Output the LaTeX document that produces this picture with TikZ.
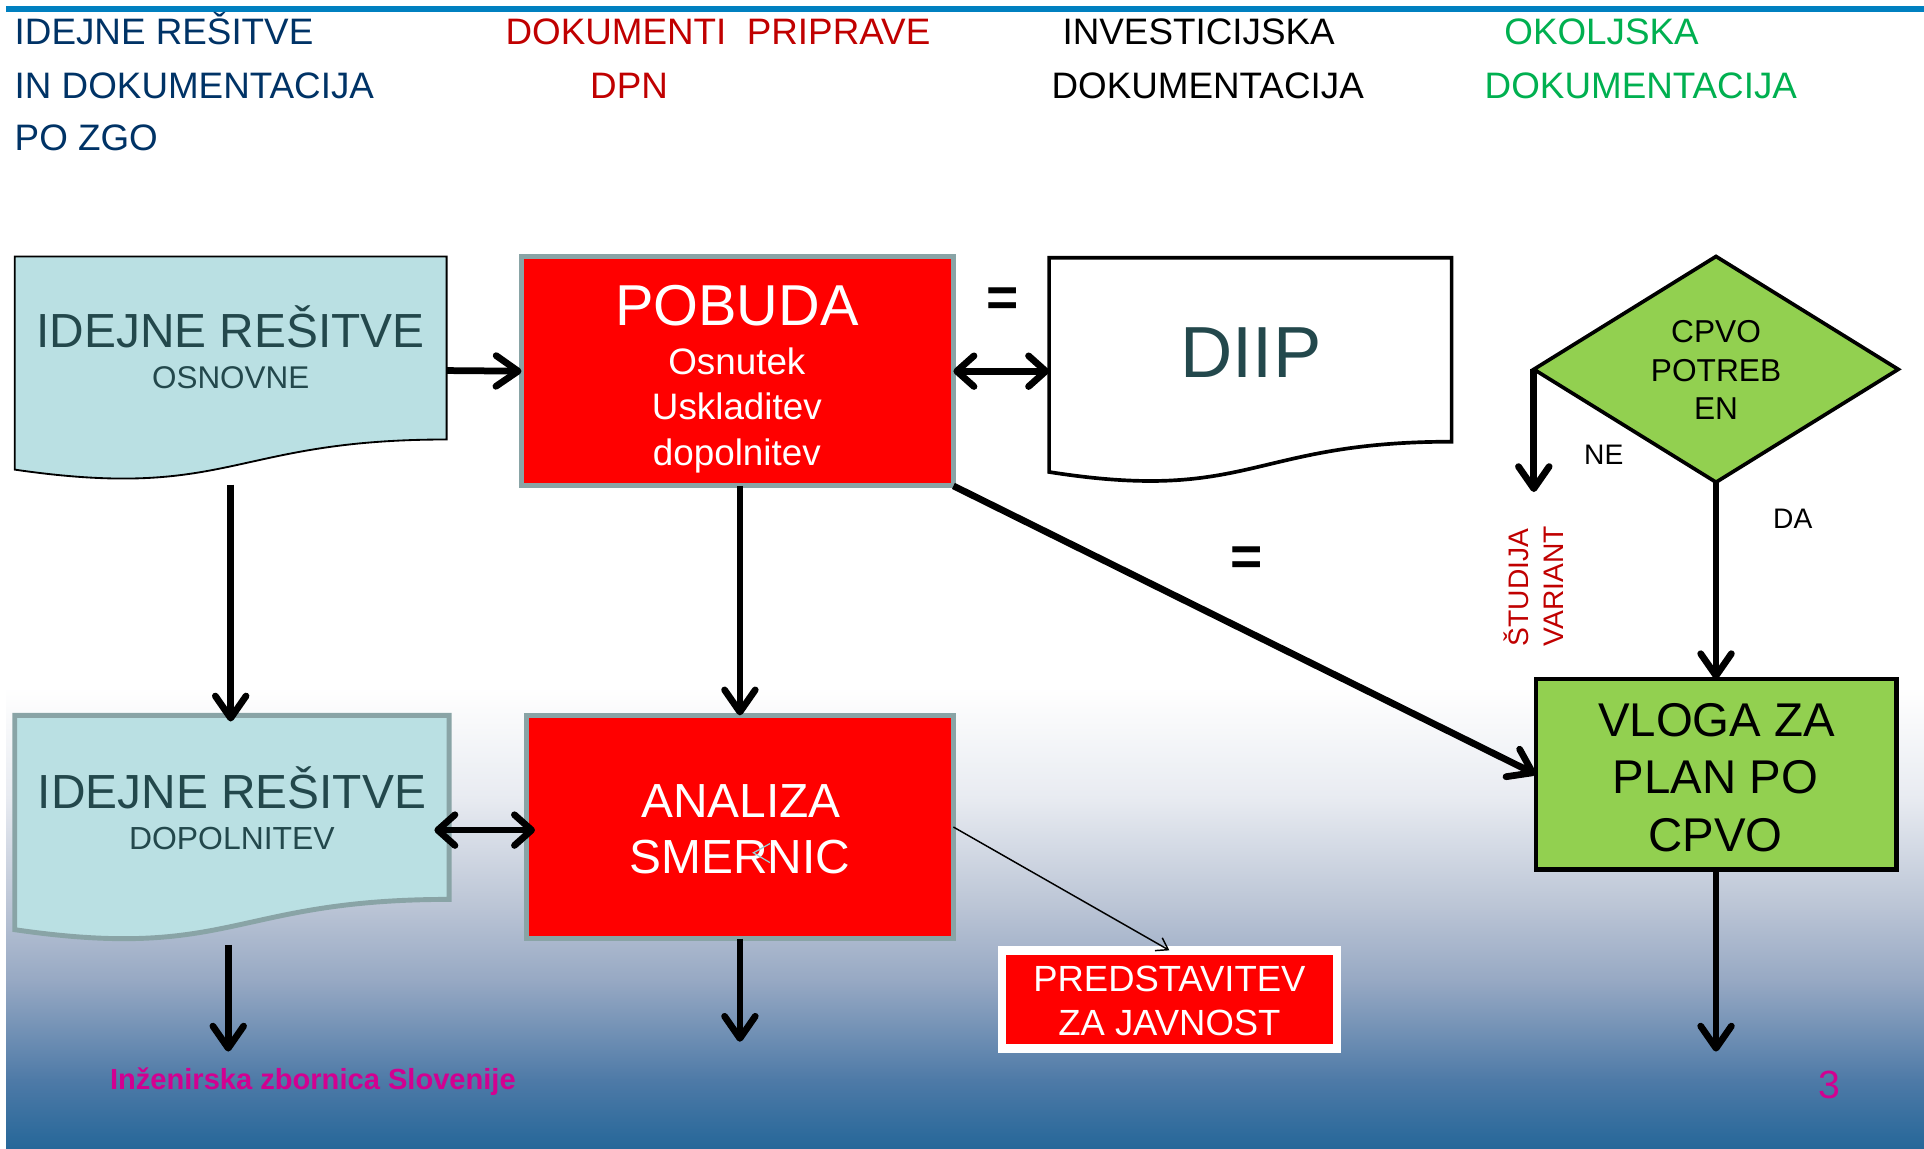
\documentclass[tikz,border=0pt]{standalone}
\usepackage{fontspec}
\setmainfont{Liberation Sans}
\usetikzlibrary{arrows.meta,shapes.geometric,calc}
\definecolor{navy}{RGB}{0,51,102}
\definecolor{hred}{RGB}{192,0,0}
\definecolor{hgreen}{RGB}{0,176,80}
\definecolor{topblue}{RGB}{0,128,192}
\definecolor{doctext}{RGB}{35,72,76}
\definecolor{cyanfill}{RGB}{186,224,227}
\definecolor{bgray}{RGB}{137,164,166}
\definecolor{lgreen}{RGB}{146,208,80}
\definecolor{magen}{RGB}{210,0,145}
\definecolor{chevc}{RGB}{150,210,215}
\definecolor{ga}{RGB}{232,235,241}
\definecolor{gb}{RGB}{186,196,213}
\definecolor{gc}{RGB}{150,168,195}
\definecolor{gd}{RGB}{78,122,167}
\definecolor{ge}{RGB}{38,103,153}
\newcommand\fs[1]{\fontsize{#1}{#1}\selectfont}
\newcommand\docpath[1]{(#1.north west) -- (#1.north east) -- ($(#1.north east)!0.802!(#1.south east)$) .. controls ($(#1.north)!0.802!(#1.south)$) and ($(#1.north)!1.0718!(#1.south)$) .. ($(#1.north west)!0.934!(#1.south west)$) -- cycle}
\tikzset{
  inv/.style={rectangle, draw=none, inner sep=0pt, outer sep=0pt},
  box/.style={rectangle, inner sep=0pt, outer sep=0pt},
  tx/.style={inner sep=0pt, outer sep=0pt, anchor=base},
  arr/.style={line width=5.5pt, -{Straight Barb[length=18pt,width=25pt,round]}},
  darr/.style={line width=5.5pt, {Straight Barb[length=14pt,width=25pt,round]}-{Straight Barb[length=14pt,width=25pt,round]}},
  thinarr/.style={line width=1.2pt, -{Straight Barb[length=9pt,width=12pt]}},
  eqsign/.style={inner sep=0pt, font=\fs{45}\bfseries},
}
\begin{document}
\begin{tikzpicture}[x=1pt,y=-1pt]
\useasboundingbox (0,0) rectangle (1568,936);
\fill[white] (0,0) rectangle (1568,936);
% background gradient
\fill[top color=white, bottom color=ga] (5,560) rectangle (1568,650.5);
\fill[top color=ga, bottom color=gb] (5,650) rectangle (1568,740.5);
\fill[top color=gb, bottom color=gc] (5,740) rectangle (1568,800.5);
\fill[top color=gc, bottom color=gd] (5,800) rectangle (1568,880.5);
\fill[top color=gd, bottom color=ge] (5,880) rectangle (1568,936);
\draw[topblue, line width=5pt] (5,7.5) -- (1568,7.5);

% header
\node[tx, anchor=base west, text=navy, font=\fs{30}] (h11) at (12,36) {IDEJNE REŠITVE};
\node[tx, anchor=base west, text=navy, font=\fs{30}] (h12) at (12,80) {IN DOKUMENTACIJA};
\node[tx, anchor=base west, text=navy, font=\fs{30}] (h13) at (12,123) {PO ZGO};
\node[tx, anchor=base west, text=hred, font=\fs{30}] (h21) at (412,36) {DOKUMENTI\ \ PRIPRAVE};
\node[tx, anchor=base west, text=hred, font=\fs{30}] (h22) at (481,80) {DPN};
\node[tx, anchor=base west, text=black, font=\fs{30}] (h31) at (866,36) {INVESTICIJSKA};
\node[tx, anchor=base west, text=black, font=\fs{30}] (h32) at (857,80) {DOKUMENTACIJA};
\node[tx, anchor=base west, text=hgreen, font=\fs{30}] (h41) at (1226,36) {OKOLJSKA};
\node[tx, anchor=base west, text=hgreen, font=\fs{30}] (h42) at (1210,80) {DOKUMENTACIJA};

% shapes
\node[inv, minimum width=352pt, minimum height=186pt] (osn) at (188,302) {};
\node[inv, minimum width=328pt, minimum height=187pt] (diip) at (1019,303.5) {};
\node[inv, minimum width=354pt, minimum height=187pt] (dopol) at (189,676.5) {};
\draw[fill=cyanfill, draw=black, line width=1.5pt] \docpath{osn};
\draw[fill=white, draw=black, line width=3pt] \docpath{diip};
\draw[fill=cyanfill, draw=bgray, line width=4pt] \docpath{dopol};

\node[box, fill=red, draw=bgray, line width=4pt, minimum width=352pt, minimum height=187pt] (pobuda) at (601,302.5) {};
\node[box, fill=red, draw=bgray, line width=4pt, minimum width=348pt, minimum height=182pt] (analiza) at (603,674) {};
\node[box, fill=lgreen, draw=black, line width=3.5pt, minimum width=294pt, minimum height=155pt] (vloga) at (1398.5,631) {};
\node[box, fill=red, draw=white, line width=7pt, minimum width=273pt, minimum height=80pt] (predst) at (953,814.5) {};
\node[diamond, inner sep=0pt, outer sep=0pt, fill=lgreen, draw=black, line width=3pt, line join=miter, minimum width=297pt, minimum height=184pt] (cpvo) at (1398.5,301) {};

% texts in shapes
\node[tx, text=doctext, font=\fs{39}] (osnT1) at (188,283) {IDEJNE REŠITVE};
\node[tx, text=doctext, font=\fs{25.6}] (osnT2) at (188,317) {OSNOVNE};
\node[tx, text=doctext, font=\fs{59}] (diipT) at (1019.5,308) {DIIP};
\node[tx, text=doctext, font=\fs{39}] (dopT1) at (189,659) {IDEJNE REŠITVE};
\node[tx, text=doctext, font=\fs{26}] (dopT2) at (189,692) {DOPOLNITEV};
\node[tx, text=white, font=\fs{47}] (pobT1) at (600.5,265) {POBUDA};
\node[tx, text=white, font=\fs{30}] (pobT2) at (600.5,305) {Osnutek};
\node[tx, text=white, font=\fs{30}] (pobT3) at (600.5,342) {Uskladitev};
\node[tx, text=white, font=\fs{30}] (pobT4) at (600.5,379) {dopolnitev};
\node[tx, text=white, font=\fs{39}] (anaT1) at (604,666) {ANALIZA};
\node[tx, text=white, font=\fs{39}] (anaT2) at (603,712) {SMERNIC};
\node[tx, text=black, font=\fs{38.6}] (vloT1) at (1399,600) {VLOGA ZA};
\node[tx, text=black, font=\fs{38.6}] (vloT2) at (1398,647) {PLAN PO};
\node[tx, text=black, font=\fs{38.6}] (vloT3) at (1398,694) {CPVO};
\node[tx, text=white, font=\fs{29.7}] (preT1) at (953,808) {PREDSTAVITEV};
\node[tx, text=white, font=\fs{29.7}] (preT2) at (953,844) {ZA JAVNOST};
\node[tx, text=black, font=\fs{25.8}] (cpvT1) at (1398.5,279) {CPVO};
\node[tx, text=black, font=\fs{25.8}] (cpvT2) at (1398.5,311) {POTREB};
\node[tx, text=black, font=\fs{25.8}] (cpvT3) at (1398.5,342) {EN};
\draw[chevc, line width=1pt] (627.5,687.5) -- (614,695) -- (627.5,703);

% free labels
\node[eqsign] (eq1) at (817.5,246) {=};
\node[eqsign] (eq2) at (1016,457.5) {=};
\node[inner sep=0pt, font=\fs{23}] (ne) at (1307,371) {NE};
\node[inner sep=0pt, font=\fs{23}] (da) at (1461,423) {DA};
\node[inner sep=0pt, anchor=base west, rotate=90, text=hred, font=\fs{23}] (stud1) at (1246,527) {ŠTUDIJA};
\node[inner sep=0pt, anchor=base west, rotate=90, text=hred, font=\fs{23}] (stud2) at (1274,527) {VARIANT};
\node[tx, text=magen, font=\fs{23.7}\bfseries] (foot) at (255,888) {Inženirska zbornica Slovenije};
\node[inner sep=0pt, text=magen, font=\fs{32}] (pnum) at (1490.5,884) {3};

% connectors
\coordinate (neEnd) at (1250,401);
\coordinate (vloEnd) at (1398.5,857);
\coordinate (dopEnd) at (186,857);
\coordinate (anaEnd) at (603,849);
\draw[arr] (osn.east) -- (pobuda.west);
\draw[darr] (pobuda.east) -- (pobuda.east -| diip.west);
\draw[arr, shorten >=-5pt] (osn.south) -- (osn.south |- dopol.north);
\draw[arr] (pobuda.south -| analiza.north) -- (analiza.north);
\draw[arr] (pobuda.south east) -- (vloga.west);
\draw[darr, shorten <=-12pt, shorten >=-7pt] (dopol.east) -- (dopol.east -| analiza.west);
\draw[arr] (cpvo.west) -- (neEnd);
\draw[arr] (cpvo.south) -- (vloga.north);
\draw[arr] (vloga.south) -- (vloEnd);
\draw[arr] (dopol.south -| dopEnd) -- (dopEnd);
\draw[arr] (analiza.south) -- (anaEnd);
\draw[thinarr] (analiza.east) -- (predst.north);
\end{tikzpicture}
\end{document}
